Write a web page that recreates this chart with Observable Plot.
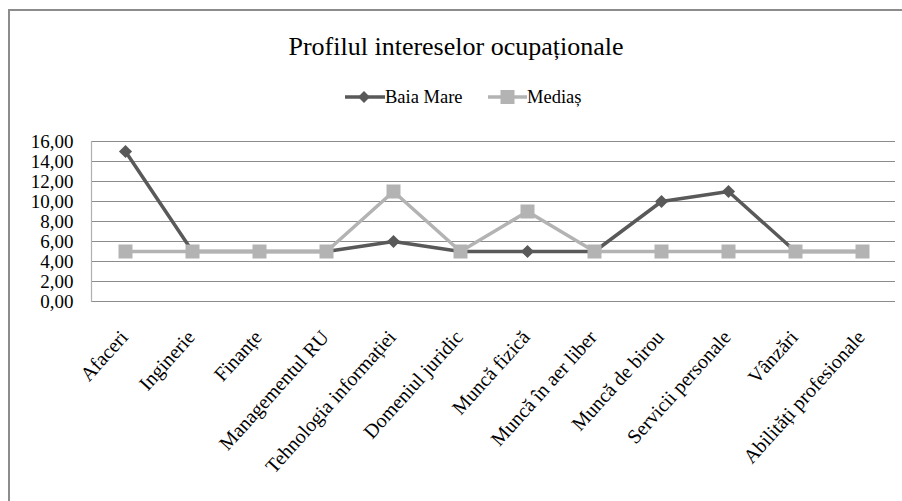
<!DOCTYPE html>
<html>
<head>
<meta charset="utf-8">
<script src="https://cdn.jsdelivr.net/npm/d3@7"></script>
<script src="https://cdn.jsdelivr.net/npm/@observablehq/plot@0.6"></script>
<style>
  html, body { margin: 0; padding: 0; background: #fff; width: 902px; height: 501px; overflow: hidden; }
  body { position: relative; font-family: "Liberation Serif", "Times New Roman", serif; color: #000; }
  #frame { position: absolute; left: 8px; top: 9px; width: 1000px; height: 700px; border: 2px solid #8c8c8c; box-sizing: border-box; }
  #title { position: absolute; left: 0; top: 34px; width: 912px; text-align: center; font-size: 26px; line-height: 26px; white-space: nowrap; }
  .leg { position: absolute; top: 87px; height: 20px; display: flex; align-items: center; font-size: 18.5px; line-height: 20px; white-space: nowrap; }
  #chart { position: absolute; left: 0; top: 120px; }
</style>
</head>
<body>
<div id="frame"></div>
<div id="title"></div>
<div id="legend"></div>
<div id="chart"></div>
<script>
const titleText = "Profilul intereselor ocupaționale";
const categories = ["Afaceri", "Inginerie", "Finanțe", "Managementul RU", "Tehnologia informației", "Domeniul juridic", "Muncă fizică", "Muncă în aer liber", "Muncă de birou", "Servicii personale", "Vânzări", "Abilități profesionale"];
const seriesNames = ["Baia Mare", "Mediaș"];
const baiaMare = [15, 5, 5, 5, 6, 5, 5, 5, 10, 11, 5, 5];
const medias = [5, 5, 5, 5, 11, 5, 9, 5, 5, 5, 5, 5];
const yTicks = [0, 2, 4, 6, 8, 10, 12, 14, 16];

const colors = ["#595959", "#b3b3b3"];
const symbols = ["diamond2", "square"];

document.getElementById("title").textContent = titleText;

// legend
const legend = document.getElementById("legend");
const legPos = [[345, 385], [488, 527]];
seriesNames.forEach((name, i) => {
  const item = document.createElement("div");
  item.className = "leg";
  item.style.left = legPos[i][0] + "px";
  const w = legPos[i][1] - legPos[i][0];
  const svg = d3.create("svg").attr("width", w).attr("height", 20);
  svg.append("line").attr("x1", 0).attr("x2", w).attr("y1", 10).attr("y2", 10)
    .attr("stroke", colors[i]).attr("stroke-width", 3.5);
  if (i === 0) {
    svg.append("path").attr("d", d3.symbol(d3.symbolDiamond2, 90)()).attr("transform", `translate(${w / 2 - 1},10)`).attr("fill", colors[i]);
  } else {
    svg.append("rect").attr("x", w / 2 - 7).attr("y", 3).attr("width", 14).attr("height", 14).attr("fill", colors[i]);
  }
  item.appendChild(svg.node());
  const t = document.createElement("span");
  t.textContent = name;
  item.appendChild(t);
  legend.appendChild(item);
});

const dataBM = categories.map((c, i) => ({cat: c, v: baiaMare[i]}));
const dataM = categories.map((c, i) => ({cat: c, v: medias[i]}));
const fmt = d => d.toFixed(2).replace(".", ",");

const chart = Plot.plot({
  width: 902,
  height: 381,
  marginLeft: 91,
  marginRight: 7,
  marginTop: 21,
  marginBottom: 200,
  style: {fontFamily: "'Liberation Serif', 'Times New Roman', serif", background: "transparent", color: "#000", overflow: "visible"},
  x: {type: "point", domain: categories, padding: 0.5, axis: null},
  y: {domain: [0, 16], axis: null},
  marks: [
    Plot.ruleY(yTicks, {stroke: "#8c8c8c", strokeWidth: 1.2}),
    Plot.frame({anchor: "left", stroke: "#b0b0b0", strokeWidth: 1.2}),
    Plot.axisY(yTicks, {tickSize: 0, tickPadding: 18, tickFormat: fmt, fontSize: 19, fill: "#000", label: null}),
    Plot.text(categories, {x: d => d, frameAnchor: "bottom", dy: 36.5, dx: 3.5, rotate: -48, textAnchor: "end", lineAnchor: "bottom", fontSize: 20, fill: "#000"}),
    Plot.line(dataBM, {x: "cat", y: "v", stroke: colors[0], strokeWidth: 3.5}),
    Plot.dot(dataBM, {x: "cat", y: "v", symbol: symbols[0], r: 5.9, fill: colors[0], stroke: "none"}),
    Plot.line(dataM, {x: "cat", y: "v", stroke: colors[1], strokeWidth: 3.5}),
    Plot.dot(dataM, {x: "cat", y: "v", symbol: symbols[1], r: 7.9, fill: colors[1], stroke: "none"})
  ]
});
document.getElementById("chart").appendChild(chart);
</script>
</body>
</html>
